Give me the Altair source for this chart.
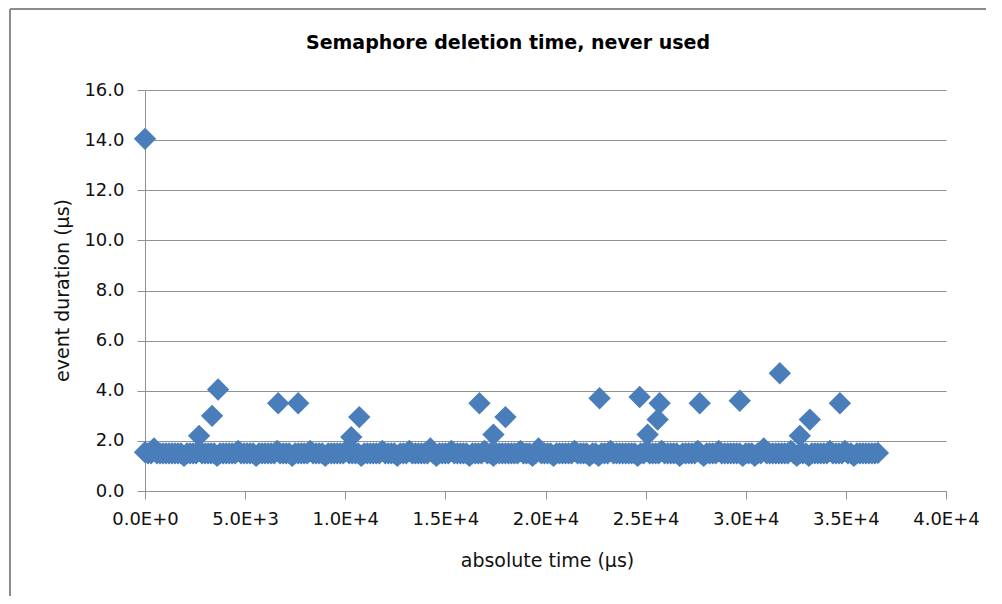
import altair as alt
import pandas as pd

# Dense band of ordinary events (absolute time in µs, duration in µs)
band_time = [
    0, 150, 300, 450, 600, 750, 900, 1050, 1200, 1350,
    1500, 1650, 1800, 1950, 2100, 2250, 2400, 2550, 2700, 2850,
    3000, 3150, 3300, 3450, 3600, 3750, 3900, 4050, 4200, 4350,
    4500, 4650, 4800, 4950, 5100, 5250, 5400, 5550, 5700, 5850,
    6000, 6150, 6300, 6450, 6600, 6750, 6900, 7050, 7200, 7350,
    7500, 7650, 7800, 7950, 8100, 8250, 8400, 8550, 8700, 8850,
    9000, 9150, 9300, 9450, 9600, 9750, 9900, 10050, 10200, 10350,
    10500, 10650, 10800, 10950, 11100, 11250, 11400, 11550, 11700, 11850,
    12000, 12150, 12300, 12450, 12600, 12750, 12900, 13050, 13200, 13350,
    13500, 13650, 13800, 13950, 14100, 14250, 14400, 14550, 14700, 14850,
    15000, 15150, 15300, 15450, 15600, 15750, 15900, 16050, 16200, 16350,
    16500, 16650, 16800, 16950, 17100, 17250, 17400, 17550, 17700, 17850,
    18000, 18150, 18300, 18450, 18600, 18750, 18900, 19050, 19200, 19350,
    19500, 19650, 19800, 19950, 20100, 20250, 20400, 20550, 20700, 20850,
    21000, 21150, 21300, 21450, 21600, 21750, 21900, 22050, 22200, 22350,
    22500, 22650, 22800, 22950, 23100, 23250, 23400, 23550, 23700, 23850,
    24000, 24150, 24300, 24450, 24600, 24750, 24900, 25050, 25200, 25350,
    25500, 25650, 25800, 25950, 26100, 26250, 26400, 26550, 26700, 26850,
    27000, 27150, 27300, 27450, 27600, 27750, 27900, 28050, 28200, 28350,
    28500, 28650, 28800, 28950, 29100, 29250, 29400, 29550, 29700, 29850,
    30000, 30150, 30300, 30450, 30600, 30750, 30900, 31050, 31200, 31350,
    31500, 31650, 31800, 31950, 32100, 32250, 32400, 32550, 32700, 32850,
    33000, 33150, 33300, 33450, 33600, 33750, 33900, 34050, 34200, 34350,
    34500, 34650, 34800, 34950, 35100, 35250, 35400, 35550, 35700, 35850,
    36000, 36150, 36300, 36450, 36600,
]
band_duration = [
    1.55, 1.5, 1.5, 1.7, 1.5, 1.5, 1.5, 1.5, 1.5, 1.5,
    1.5, 1.5, 1.5, 1.4, 1.5, 1.5, 1.5, 1.5, 1.6, 1.5,
    1.5, 1.5, 1.5, 1.5, 1.4, 1.5, 1.5, 1.5, 1.5, 1.5,
    1.5, 1.6, 1.5, 1.5, 1.5, 1.5, 1.5, 1.4, 1.5, 1.5,
    1.5, 1.5, 1.5, 1.5, 1.6, 1.5, 1.5, 1.5, 1.5, 1.4,
    1.5, 1.5, 1.5, 1.5, 1.5, 1.6, 1.5, 1.5, 1.5, 1.5,
    1.4, 1.5, 1.5, 1.5, 1.5, 1.5, 1.5, 1.6, 1.5, 1.5,
    1.5, 1.5, 1.4, 1.5, 1.5, 1.5, 1.5, 1.5, 1.5, 1.6,
    1.5, 1.5, 1.5, 1.5, 1.4, 1.5, 1.5, 1.5, 1.6, 1.5,
    1.5, 1.5, 1.5, 1.5, 1.5, 1.7, 1.5, 1.4, 1.5, 1.5,
    1.5, 1.5, 1.6, 1.5, 1.5, 1.5, 1.5, 1.5, 1.4, 1.5,
    1.5, 1.5, 1.5, 1.6, 1.5, 1.5, 1.4, 1.5, 1.5, 1.5,
    1.5, 1.5, 1.5, 1.5, 1.5, 1.6, 1.5, 1.5, 1.5, 1.4,
    1.5, 1.7, 1.5, 1.5, 1.5, 1.5, 1.4, 1.5, 1.5, 1.5,
    1.5, 1.5, 1.5, 1.6, 1.5, 1.5, 1.5, 1.5, 1.4, 1.5,
    1.5, 1.4, 1.5, 1.5, 1.5, 1.6, 1.5, 1.5, 1.5, 1.5,
    1.5, 1.5, 1.5, 1.5, 1.4, 1.5, 1.5, 1.6, 1.5, 1.5,
    1.5, 1.5, 1.6, 1.5, 1.5, 1.5, 1.5, 1.5, 1.4, 1.5,
    1.5, 1.5, 1.5, 1.5, 1.6, 1.5, 1.4, 1.5, 1.5, 1.5,
    1.5, 1.6, 1.5, 1.5, 1.5, 1.5, 1.5, 1.5, 1.5, 1.4,
    1.5, 1.5, 1.5, 1.4, 1.5, 1.5, 1.7, 1.5, 1.5, 1.5,
    1.5, 1.5, 1.5, 1.5, 1.5, 1.6, 1.5, 1.4, 1.5, 1.5,
    1.5, 1.4, 1.5, 1.5, 1.5, 1.5, 1.5, 1.5, 1.6, 1.5,
    1.5, 1.5, 1.5, 1.6, 1.5, 1.5, 1.4, 1.5, 1.5, 1.5,
    1.5, 1.5, 1.5, 1.5, 1.52,
]

# Outlying events
outlier_time = [0, 2700, 3350, 3650, 6650, 7650, 10300, 10700, 16700, 17400,
                18000, 22700, 24700, 25100, 25600, 25700, 27700, 29700, 31700,
                32700, 33200, 34700]
outlier_duration = [14.05, 2.2, 3.0, 4.05, 3.5, 3.5, 2.15, 2.95, 3.5, 2.25,
                    2.95, 3.7, 3.75, 2.25, 2.85, 3.5, 3.5, 3.6, 4.7,
                    2.2, 2.85, 3.5]

x_ticks = [0, 5000, 10000, 15000, 20000, 25000, 30000, 35000, 40000]
y_ticks = [0, 2, 4, 6, 8, 10, 12, 14, 16]
title_text = "Semaphore deletion time, never used"

df = pd.DataFrame({
    "time": band_time + outlier_time,
    "duration": band_duration + outlier_duration,
})

W, H = 801, 401
PL, PT, PR, PB = 137, 82, 40, 105
GRAY = "#929292"
FONT = "DejaVu Sans"

sci_label = ("datum.value == 0 ? '0.0E+0' : "
             "format(datum.value / pow(10, floor(log(datum.value) / LN10 + 1e-9)), '.1f')"
             " + 'E+' + floor(log(datum.value) / LN10 + 1e-9)")

points = alt.Chart(df).mark_point(
    shape="diamond", filled=True, size=500, color="#4A7EBB", opacity=1
).encode(
    x=alt.X("time:Q",
            scale=alt.Scale(domain=[0, 40000], nice=False, zero=True),
            axis=alt.Axis(values=x_ticks, labelExpr=sci_label, grid=False,
                          labelFlush=False, labelOverlap=False,
                          title="absolute time (µs)", titleX=402, titleY=69,
                          titleBaseline="middle", titleFontWeight="normal",
                          tickSize=8, labelPadding=11)),
    y=alt.Y("duration:Q",
            scale=alt.Scale(domain=[0, 16], nice=False),
            axis=alt.Axis(values=y_ticks, format=".1f", grid=True,
                          labelFlush=False, labelOverlap=False,
                          title="event duration (µs)", titleX=-83, titleY=200,
                          titleBaseline="middle", titleAngle=-90,
                          titleFontWeight="normal", tickSize=8, labelPadding=13)),
)

one = pd.DataFrame({"k": [0]})
left_border = alt.Chart(one).mark_rule(color="#8c8c8c", strokeWidth=2).encode(
    x=alt.value(-135), y=alt.value(-81), y2=alt.value(H + PB))
top_border = alt.Chart(one).mark_rule(color="#8c8c8c", strokeWidth=2).encode(
    x=alt.value(-135), x2=alt.value(W + PR), y=alt.value(-81))
title = alt.Chart(pd.DataFrame({"t": [title_text]})).mark_text(
    font=FONT, fontSize=19, fontWeight="bold", color="black",
    align="center", baseline="middle"
).encode(text="t:N", x=alt.value(363), y=alt.value(-47))

chart = alt.layer(left_border, top_border, title, points).properties(
    width=W, height=H,
    autosize=alt.AutoSizeParams(type="none"),
    padding={"left": PL, "top": PT, "right": PR, "bottom": PB},
).configure_view(stroke=None).configure_axis(
    labelFont=FONT, labelFontSize=18, labelColor="#111111",
    titleFont=FONT, titleFontSize=19, titleColor="#111111",
    domainColor=GRAY, tickColor=GRAY, gridColor=GRAY,
    domainWidth=1, tickWidth=1, gridWidth=1,
)

chart.save("out.html", embed_options={"renderer": "svg", "actions": False})
